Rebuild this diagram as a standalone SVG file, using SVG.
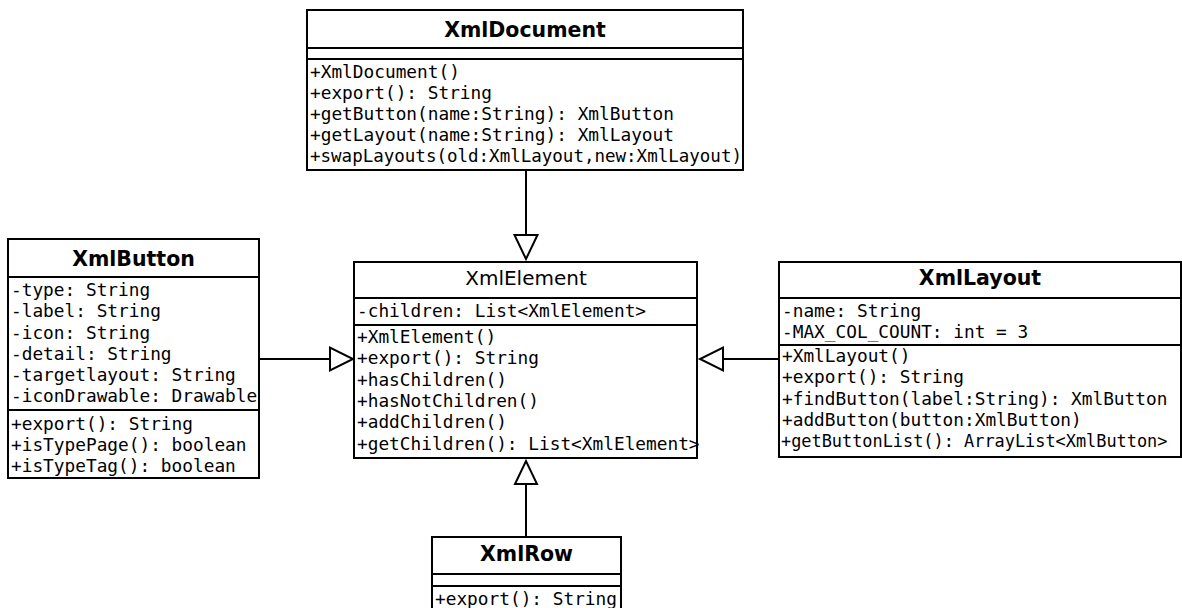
<svg xmlns="http://www.w3.org/2000/svg" width="1182" height="608" viewBox="0 0 1182 608">
<style>
.box{fill:#fff;stroke:#000;stroke-width:2}
.ln{stroke:#000;stroke-width:2;fill:none}
.t{font-family:"DejaVu Sans",sans-serif;font-size:20.5px;font-weight:bold;text-anchor:middle;fill:#000}
.tr{font-family:"DejaVu Sans",sans-serif;font-size:20px;text-anchor:middle;fill:#000}
.m{font-family:"DejaVu Sans Mono",monospace;font-size:17.8px;fill:#000}
.arr{fill:#fff;stroke:#000;stroke-width:2}
</style>
<rect width="1182" height="608" fill="#fff"/>
<g id="connectors">
<line class="ln" x1="526" y1="170" x2="526" y2="235"/>
<polygon class="arr" points="514.5,235 537.5,235 526,259"/>
<line class="ln" x1="526" y1="537" x2="526" y2="484"/>
<polygon class="arr" points="515,484 537,484 526,461"/>
<line class="ln" x1="259" y1="359" x2="330" y2="359"/>
<polygon class="arr" points="330,347.5 330,370.5 353,359"/>
<line class="ln" x1="779" y1="359" x2="723" y2="359"/>
<polygon class="arr" points="723,347.5 723,370.5 700,359"/>
</g>
<g id="XmlDocument">
<rect class="box" x="307" y="10" width="436" height="160"/>
<line class="ln" x1="307" y1="48" x2="743" y2="48"/>
<line class="ln" x1="307" y1="59" x2="743" y2="59"/>
<text class="t" x="525" y="36.5">XmlDocument</text>
<text class="m" x="310" y="78">+XmlDocument()</text>
<text class="m" x="310" y="99">+export(): String</text>
<text class="m" x="310" y="120">+getButton(name:String): XmlButton</text>
<text class="m" x="310" y="141">+getLayout(name:String): XmlLayout</text>
<text class="m" x="310" y="162" style="font-size:17.5px">+swapLayouts(old:XmlLayout,new:XmlLayout)</text>
</g>
<g id="XmlButton">
<rect class="box" x="8" y="239" width="251" height="239"/>
<line class="ln" x1="8" y1="277" x2="259" y2="277"/>
<line class="ln" x1="8" y1="410" x2="259" y2="410"/>
<text class="t" x="133.5" y="266">XmlButton</text>
<text class="m" x="11" y="296">-type: String</text>
<text class="m" x="11" y="317">-label: String</text>
<text class="m" x="11" y="338.5">-icon: String</text>
<text class="m" x="11" y="360">-detail: String</text>
<text class="m" x="11" y="381">-targetlayout: String</text>
<text class="m" x="11" y="402">-iconDrawable: Drawable</text>
<text class="m" x="11" y="430">+export(): String</text>
<text class="m" x="11" y="451">+isTypePage(): boolean</text>
<text class="m" x="11" y="472">+isTypeTag(): boolean</text>
</g>
<g id="XmlElement">
<rect class="box" x="354" y="262" width="343" height="196"/>
<line class="ln" x1="354" y1="298" x2="697" y2="298"/>
<line class="ln" x1="354" y1="325" x2="697" y2="325"/>
<text class="tr" x="526" y="285">XmlElement</text>
<text class="m" x="357" y="317">-children: List&lt;XmlElement&gt;</text>
<text class="m" x="357" y="343">+XmlElement()</text>
<text class="m" x="357" y="364">+export(): String</text>
<text class="m" x="357" y="385.5">+hasChildren()</text>
<text class="m" x="357" y="407">+hasNotChildren()</text>
<text class="m" x="357" y="428">+addChildren()</text>
<text class="m" x="357" y="449.5">+getChildren(): List&lt;XmlElement&gt;</text>
</g>
<g id="XmlLayout">
<rect class="box" x="779" y="262" width="402" height="195"/>
<line class="ln" x1="779" y1="298" x2="1181" y2="298"/>
<line class="ln" x1="779" y1="345" x2="1181" y2="345"/>
<text class="t" x="980" y="285">XmlLayout</text>
<text class="m" x="782" y="317">-name: String</text>
<text class="m" x="782" y="338">-MAX_COL_COUNT: int = 3</text>
<text class="m" x="782" y="362">+XmlLayout()</text>
<text class="m" x="782" y="383">+export(): String</text>
<text class="m" x="782" y="404.5">+findButton(label:String): XmlButton</text>
<text class="m" x="782" y="426">+addButton(button:XmlButton)</text>
<text class="m" x="781" y="447" style="font-size:16.9px">+getButtonList(): ArrayList&lt;XmlButton&gt;</text>
</g>
<g id="XmlRow">
<rect class="box" x="432" y="537" width="189" height="75"/>
<line class="ln" x1="432" y1="574" x2="621" y2="574"/>
<line class="ln" x1="432" y1="586" x2="621" y2="586"/>
<text class="t" x="526.5" y="561">XmlRow</text>
<text class="m" x="435" y="605">+export(): String</text>
</g>
</svg>
